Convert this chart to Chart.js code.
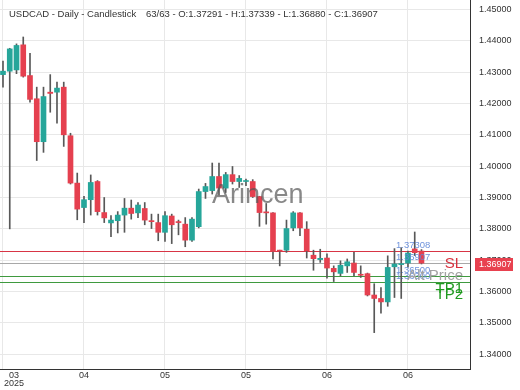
<!DOCTYPE html>
<html><head><meta charset="utf-8">
<script src="https://cdn.jsdelivr.net/npm/chart.js@4"></script>
<style>html,body{margin:0;padding:0;background:#fff}#wrap{width:520px;height:390px}</style>
</head><body><div id="wrap"><canvas id="c" width="520" height="390"></canvas></div>
<script>
const opens  = [1.4292,1.4303,1.4307,1.4387,1.4289,1.4215,1.4078,1.4236,1.4236,1.4252,1.4097,1.3946,1.3868,1.3893,1.3951,1.3852,1.3819,1.3826,1.3844,1.3866,1.3851,1.3865,1.3826,1.3820,1.3789,1.3841,1.3822,1.3815,1.3764,1.3807,1.3919,1.3922,1.3967,1.3930,1.3973,1.3951,1.3951,1.3951,1.3903,1.3853,1.3851,1.3730,1.3732,1.3803,1.3851,1.3799,1.3716,1.3702,1.3707,1.3674,1.3658,1.3682,1.3691,1.3654,1.3657,1.3589,1.3578,1.3567,1.3679,1.3686,1.3691,1.3736,1.37291];
const highs  = [1.4335,1.4376,1.4390,1.4412,1.4360,1.4252,1.4252,1.4292,1.4268,1.4268,1.4105,1.3978,1.3904,1.3972,1.3954,1.3900,1.3842,1.3855,1.3897,1.3892,1.3884,1.3884,1.3847,1.3847,1.3855,1.3847,1.3828,1.3836,1.3836,1.3927,1.3945,1.4010,1.4010,1.3980,1.3999,1.3970,1.3959,1.3957,1.3904,1.3881,1.3852,1.3732,1.3828,1.3855,1.3852,1.3823,1.3732,1.3735,1.3720,1.3682,1.3698,1.3704,1.3725,1.3682,1.3659,1.3625,1.3613,1.3714,1.3737,1.3740,1.3729,1.3790,1.37339];
const lows   = [1.4252,1.3800,1.4295,1.4284,1.4204,1.4018,1.4044,1.4172,1.4137,1.4063,1.3943,1.3829,1.3820,1.3844,1.3844,1.3820,1.3775,1.3787,1.3789,1.3831,1.3836,1.3813,1.3801,1.3762,1.3760,1.3753,1.3781,1.3743,1.3760,1.3803,1.3897,1.3911,1.3908,1.3916,1.3943,1.3932,1.3938,1.3900,1.3808,1.3815,1.3704,1.3682,1.3725,1.3794,1.3778,1.3707,1.3668,1.3693,1.3643,1.3632,1.3650,1.3661,1.3650,1.3645,1.3586,1.3469,1.3531,1.3553,1.3581,1.3578,1.3678,1.3715,1.36880];
const closes = [1.4303,1.4374,1.4385,1.4287,1.4213,1.4078,1.4222,1.4232,1.4249,1.4100,1.3946,1.3863,1.3893,1.3948,1.3855,1.3835,1.3828,1.3844,1.3866,1.3849,1.3876,1.3828,1.3823,1.3789,1.3842,1.3813,1.3820,1.3764,1.3831,1.3919,1.3935,1.3967,1.3930,1.3973,1.3951,1.3961,1.3953,1.3903,1.3852,1.3851,1.3728,1.3729,1.3801,1.3851,1.3803,1.3730,1.3705,1.3706,1.3675,1.3663,1.3684,1.3695,1.3661,1.3652,1.3589,1.3578,1.3567,1.3677,1.3688,1.3688,1.3723,1.3724,1.36907];

const xTickIdx    = [0,12,24,36,48,60];
const xTickLabels = [["03","2025"],["04"],["05"],["05"],["06"],["06"]];
const yTicks      = [1.34,1.35,1.36,1.37,1.38,1.39,1.40,1.41,1.42,1.43,1.44,1.45];

const levelNames  = ["SL","Alt Price","TP1","TP2"];
const levelValues = [1.37308,1.36907,1.36500,1.36300];
const levelLabels = ["1.37308","1.36907","1.36500","1.36300"];

const titleText = "USDCAD - Daily - Candlestick";
const infoText  = "63/63 - O:1.37291 - H:1.37339 - L:1.36880 - C:1.36907";
const lastPrice = 1.36907;
const lastPriceLabel = "1.36907";
const watermark = "Arincen";

const FONT = "'Liberation Sans', Arial, sans-serif";
const UP = '#26a69a', DOWN = '#e5404f';
const levelLine = ['#d83545','#a8a8a8','#3f9a3f','#3f9a3f'];
const levelText = ['#d8323f','#a3a3a3','#1f9a1f','#1f9a1f'];

const idx = opens.map((_, i) => i);
const bodyData = idx.map(i => ({x: i, y: [opens[i], closes[i]]}));
const wickData = idx.map(i => ({x: i, y: [lows[i], highs[i]]}));
const bodyColors = idx.map(i => closes[i] >= opens[i] ? UP : DOWN);

const overlay = {
  id: 'overlay',
  beforeDatasetsDraw(chart) {
    const {ctx, chartArea: a, scales: {y}} = chart;
    ctx.save();
    levelValues.forEach((v, k) => {
      const py = Math.round(y.getPixelForValue(v)) + 0.5;
      ctx.strokeStyle = levelLine[k]; ctx.lineWidth = 1;
      ctx.beginPath(); ctx.moveTo(a.left, py); ctx.lineTo(a.right, py); ctx.stroke();
    });
    ctx.restore();
  },
  afterDatasetsDraw(chart) {
    const {ctx, chartArea: a, scales: {y}} = chart;
    ctx.save();
    ctx.font = "27px " + FONT; ctx.fillStyle = 'rgba(85,85,85,0.7)';
    ctx.textAlign = 'left'; ctx.textBaseline = 'alphabetic';
    ctx.fillText(watermark, a.left + 212, 203);
    ctx.font = "9.5px " + FONT; ctx.fillStyle = 'rgba(95,135,215,0.9)';
    levelValues.forEach((v, k) => {
      const py = y.getPixelForValue(v);
      ctx.fillText(levelLabels[k], a.right - 74, py - 3);
    });
    ctx.font = "15px " + FONT; ctx.textAlign = 'right'; ctx.textBaseline = 'middle';
    levelValues.forEach((v, k) => {
      const py = y.getPixelForValue(v);
      ctx.fillStyle = levelText[k];
      ctx.fillText(levelNames[k], a.right - 7, py + 13);
    });
    ctx.restore();
  },
  afterDraw(chart) {
    const {ctx, chartArea: a, scales: {x, y}} = chart;
    ctx.save();
    ctx.font = "9.5px " + FONT; ctx.fillStyle = '#333'; ctx.textAlign = 'left'; ctx.textBaseline = 'alphabetic';
    ctx.fillText(titleText, 9, 16.5);
    ctx.fillText(infoText, 146, 16.5);
    ctx.font = "9px " + FONT; ctx.textAlign = 'center'; ctx.textBaseline = 'middle'; ctx.fillStyle = '#333';
    xTickIdx.forEach((v, k) => {
      const lines = xTickLabels[k];
      const w = Math.max(...lines.map(s => ctx.measureText(s).width));
      let px = x.getPixelForValue(v);
      px = Math.max(px, w / 2 + 4);
      lines.forEach((s, j) => ctx.fillText(s, px, a.bottom + 7 + j * 8));
    });
    const py = y.getPixelForValue(lastPrice);
    ctx.fillStyle = '#e8414f';
    ctx.fillRect(a.right + 5, Math.round(py - 5.5), 38, 13);
    ctx.fillStyle = '#fff'; ctx.textAlign = 'left';
    ctx.fillText(lastPriceLabel, a.right + 9, Math.round(py - 5.5) + 7);
    ctx.restore();
  }
};

new Chart(document.getElementById('c'), {
  type: 'bar',
  data: {
    datasets: [
      {data: bodyData, backgroundColor: bodyColors, barThickness: 5, grouped: false, minBarLength: 1, order: 0},
      {data: wickData, backgroundColor: '#585858', barThickness: 1, grouped: false, order: 1}
    ]
  },
  options: {
    responsive: false, animation: false, devicePixelRatio: 1,
    layout: {padding: 0},
    plugins: {legend: {display: false}, tooltip: {enabled: false}},
    scales: {
      x: {
        type: 'linear', min: -0.444, max: 69.19, offset: false,
        grid: {offset: false, color: '#e8e8e8', drawTicks: false},
        border: {display: true, color: '#333', width: 1},
        ticks: {display: false},
        afterBuildTicks: s => { s.ticks = xTickIdx.map(v => ({value: v})); },
        afterFit: s => { s.height = 21; s.paddingLeft = 0; s.paddingRight = 0; }
      },
      y: {
        position: 'right', min: 1.3353, max: 1.4530, beginAtZero: false,
        grid: {color: '#e8e8e8', drawTicks: false},
        border: {display: true, color: '#333', width: 1},
        ticks: {padding: 9, color: '#333', font: {family: FONT, size: 9}, callback: v => Number(v).toFixed(5)},
        afterBuildTicks: s => { s.ticks = yTicks.map(v => ({value: v})); },
        afterFit: s => { s.width = 50; s.paddingTop = 0; s.paddingBottom = 0; }
      }
    }
  },
  plugins: [overlay]
});
</script>
</body></html>
